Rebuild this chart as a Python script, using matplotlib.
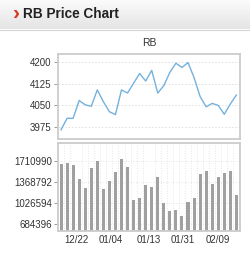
import numpy as np
import matplotlib.pyplot as plt

# price (close) and volume
prices = [3965, 4005, 4005, 4067, 4052, 4047, 4104, 4063, 4028, 4018,
          4104, 4093, 4127, 4161, 4135, 4172, 4093, 4119, 4165, 4197,
          4182, 4199, 4147, 4081, 4045, 4057, 4050, 4019, 4055, 4086]
volumes = [1662900, 1679100, 1646700, 1414200, 1268200, 1603400, 1706100, 1252000, 1387200, 1527700,
           1738600, 1614200, 1084400, 1111400, 1322300, 1284400, 1446600, 1030400, 900600, 911400,
           814100, 1052000, 1116900, 1506100, 1543900, 1343900, 1452000, 1522300, 1543900, 1160100]
price_ticks = [3975, 4050, 4125, 4200]
vol_ticks = [684396, 1026594, 1368792, 1710990]
date_labels = ['12/22', '01/04', '01/13', '01/31', '02/09']
date_pos = [2.5, 8.2, 14.5, 20.2, 26.0]

plt.rcParams['font.family'] = ['Liberation Sans', 'DejaVu Sans']
txt = '#333333'
frame = '#cccccc'

fig = plt.figure(figsize=(2.5, 2.59), dpi=100)

## header band
hdr = fig.add_axes([0, 230/259, 1, 29/259])
grad = np.linspace(0, 1, 50).reshape(-1, 1)
hdr.imshow(grad, aspect='auto', cmap=plt.matplotlib.colors.LinearSegmentedColormap.from_list('g', ['#fbfbfb', '#e4e4e4']),
           extent=[0, 1, 0, 1])
hdr.set_xlim(0, 1)
hdr.set_ylim(0, 1)
hdr.axis('off')
hdr.text(0.052, 0.52, '›', color='#d9381e', fontsize=15, fontweight='bold', va='center', ha='left')
hdr.text(0.092, 0.52, 'RB Price Chart', color='#222222', fontsize=9.8, fontweight='bold', va='center', ha='left')
fig.add_artist(plt.Line2D([0, 1], [229.5/259, 229.5/259], color='#d4d4d4', lw=0.8))

x = np.arange(len(prices))

## price panel
ax1 = fig.add_axes([58/250, (259-139)/259, 182/250, 85/259])
ax1.plot(x, prices, color='#74b1dc', lw=1.0)
ax1.set_xlim(-0.5, 29.6)
ax1.set_ylim(3933, 4229)
ax1.set_yticks(price_ticks)
ax1.set_yticklabels([str(v) for v in price_ticks])
ax1.set_xticks([])
ax1.grid(axis='y', color='#dddddd', ls=(0, (2, 2)), lw=0.6)
ax1.set_axisbelow(True)
ax1.tick_params(axis='y', length=3, width=0.6, color='#888888', pad=1.5, labelsize=7, labelcolor=txt)
for s in ax1.spines.values():
    s.set_color(frame)
    s.set_linewidth(1.3)
ax1.set_title('RB', fontsize=7.5, color=txt, pad=6)

## volume panel
ax2 = fig.add_axes([58/250, (259-231)/259, 182/250, 88/259])
ax2.bar(x, volumes, width=0.5, color='#a0a0a0')
ax2.set_xlim(-0.5, 29.6)
ax2.set_ylim(575000, 2003000)
ax2.set_yticks(vol_ticks)
ax2.set_yticklabels([str(v) for v in vol_ticks])
ax2.set_xticks(date_pos)
ax2.set_xticklabels(date_labels)
ax2.set_xticks(x + 0.5, minor=True)
ax2.grid(axis='y', color='#dddddd', ls=(0, (1, 2)), lw=0.6)
ax2.grid(axis='x', which='minor', color='#dddddd', ls=(0, (1, 2)), lw=0.6)
ax2.set_axisbelow(True)
ax2.tick_params(axis='y', length=3, width=0.6, color='#888888', pad=1.5, labelsize=7, labelcolor=txt)
ax2.tick_params(axis='x', which='both', length=0, pad=3, labelsize=7, labelcolor=txt)
for s in ax2.spines.values():
    s.set_color(frame)
    s.set_linewidth(1.3)

fig.savefig('out.png', dpi=100)
